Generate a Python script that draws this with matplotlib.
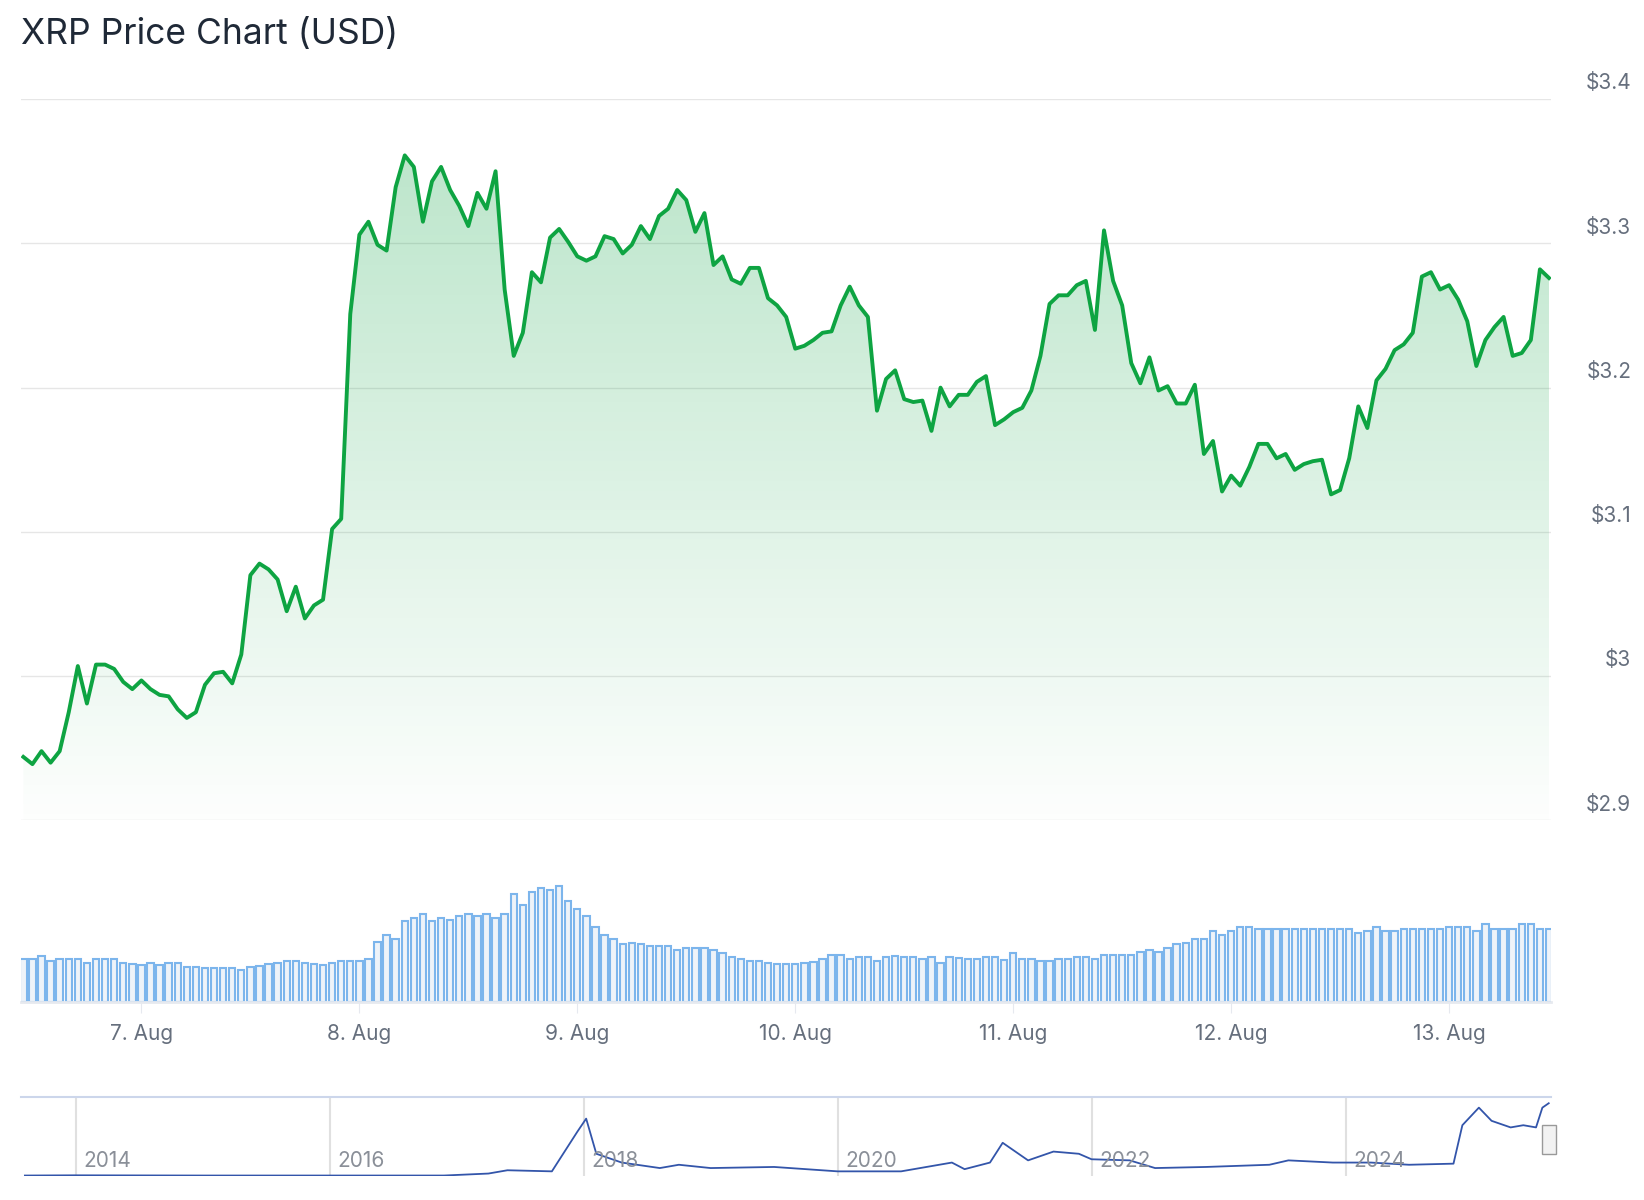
import numpy as np
import matplotlib
matplotlib.use("Agg")
import matplotlib.pyplot as plt
import matplotlib.dates as mdates
from matplotlib.path import Path
from matplotlib.patches import PathPatch
import datetime as dt

title = "XRP Price Chart (USD)"
start_time = dt.datetime(2025, 8, 6, 11, 0)
prices = [2.944, 2.939, 2.948, 2.940, 2.948, 2.975, 3.007, 2.981, 3.008, 3.008,
          3.005, 2.996, 2.991, 2.997, 2.991, 2.987, 2.986, 2.977, 2.971, 2.975,
          2.994, 3.002, 3.003, 2.995, 3.015, 3.070, 3.078, 3.074, 3.067, 3.045,
          3.062, 3.040, 3.049, 3.053, 3.102, 3.109, 3.251, 3.306, 3.315, 3.299,
          3.295, 3.339, 3.361, 3.353, 3.315, 3.343, 3.353, 3.337, 3.326, 3.312,
          3.335, 3.324, 3.350, 3.268, 3.222, 3.238, 3.280, 3.273, 3.304, 3.310,
          3.301, 3.291, 3.288, 3.291, 3.305, 3.303, 3.293, 3.299, 3.312, 3.303,
          3.319, 3.324, 3.337, 3.330, 3.308, 3.321, 3.285, 3.291, 3.275, 3.272,
          3.283, 3.283, 3.262, 3.257, 3.249, 3.227, 3.229, 3.233, 3.238, 3.239,
          3.257, 3.270, 3.257, 3.249, 3.184, 3.206, 3.212, 3.192, 3.190, 3.191,
          3.170, 3.200, 3.187, 3.195, 3.195, 3.204, 3.208, 3.174, 3.178, 3.183,
          3.186, 3.198, 3.222, 3.258, 3.264, 3.264, 3.271, 3.274, 3.240, 3.309,
          3.274, 3.257, 3.217, 3.203, 3.221, 3.198, 3.201, 3.189, 3.189, 3.202,
          3.154, 3.163, 3.128, 3.139, 3.132, 3.145, 3.161, 3.161, 3.151, 3.154,
          3.143, 3.147, 3.149, 3.150, 3.126, 3.129, 3.151, 3.187, 3.172, 3.205,
          3.213, 3.226, 3.230, 3.238, 3.277, 3.280, 3.268, 3.271, 3.261, 3.246,
          3.215, 3.233, 3.242, 3.249, 3.222, 3.224, 3.233, 3.282, 3.276]
volumes = [40, 40, 43, 38, 40, 40, 40, 36, 40, 40,
           40, 36, 35, 34, 36, 34, 36, 36, 32, 32,
           31, 31, 31, 31, 30, 32, 33, 35, 36, 38,
           38, 36, 35, 34, 36, 38, 38, 38, 40, 56,
           62, 58, 75, 78, 82, 75, 78, 76, 80, 82,
           80, 82, 78, 82, 100, 90, 102, 106, 104, 108,
           94, 86, 80, 70, 62, 58, 54, 55, 54, 52,
           52, 52, 48, 50, 50, 50, 48, 45, 42, 40,
           38, 38, 36, 35, 35, 35, 36, 37, 40, 44,
           44, 40, 42, 42, 38, 42, 43, 42, 42, 40,
           42, 36, 42, 41, 40, 40, 42, 42, 39, 45,
           40, 40, 38, 38, 40, 40, 42, 42, 40, 44,
           44, 44, 44, 46, 48, 46, 50, 54, 55, 58,
           58, 66, 62, 66, 70, 70, 68, 68, 68, 68,
           68, 68, 68, 68, 68, 68, 68, 64, 66, 70,
           66, 66, 68, 68, 68, 68, 68, 70, 70, 70,
           66, 72, 68, 68, 68, 72, 72, 68, 68]
y_ticks = [2.9, 3.0, 3.1, 3.2, 3.3, 3.4]
y_labels = ["$2.9", "$3", "$3.1", "$3.2", "$3.3", "$3.4"]
nav_years = [2013.6, 2014.0, 2015.0, 2016.0, 2016.9, 2017.25, 2017.4, 2017.75, 2017.95, 2018.02,
             2018.1, 2018.3, 2018.6, 2018.75, 2019.0, 2019.5, 2020.0, 2020.5, 2020.9, 2021.0,
             2021.2, 2021.3, 2021.5, 2021.7, 2021.9, 2022.0, 2022.3, 2022.5, 2022.9, 2023.4,
             2023.55, 2023.9, 2024.2, 2024.5, 2024.85, 2024.92, 2025.05, 2025.15, 2025.3, 2025.4,
             2025.5, 2025.55, 2025.6]
nav_prices = [0.01, 0.02, 0.01, 0.01, 0.01, 0.1, 0.25, 0.2, 2.0, 2.6,
              1.0, 0.6, 0.35, 0.5, 0.35, 0.4, 0.2, 0.2, 0.6, 0.3,
              0.6, 1.5, 0.7, 1.1, 1.0, 0.75, 0.7, 0.35, 0.4, 0.5,
              0.7, 0.6, 0.6, 0.5, 0.55, 2.3, 3.1, 2.5, 2.2, 2.3,
              2.2, 3.1, 3.3]
nav_labels = [2014, 2016, 2018, 2020, 2022, 2024]

W, H = 1560, 1138
def fx(px): return px / W
def fy(py): return 1 - py / H

fig = plt.figure(figsize=(16.44, 12), dpi=100)
fig.text(fx(20), fy(33), title, fontsize=25.5, color="#1f2937", va="center", ha="left", family="Inter")

times = [start_time + dt.timedelta(hours=i) for i in range(len(prices))]
tnum = mdates.date2num(times)
xl = (tnum[0] - 0.25 / 24, tnum[-1] + 0.25 / 24)
green = "#0ea442"
grey = "#666f7d"

ax = fig.add_axes([fx(20), fy(778), fx(1472) - fx(20), fy(94) - fy(778)])
ax.set_xlim(*xl)
ax.set_ylim(2.9, 3.4)
for v in y_ticks:
    ax.axhline(v, color="#e6e6e6", lw=1, zorder=0)
ax.plot(tnum, prices, color=green, lw=2.8, zorder=3, solid_joinstyle="round")
verts = [(tnum[0], 2.9)] + list(zip(tnum, prices)) + [(tnum[-1], 2.9)]
patch = PathPatch(Path(verts), facecolor="none", edgecolor="none")
ax.add_patch(patch)
grad = np.zeros((256, 1, 4))
grad[:, 0, 0] = 0.05; grad[:, 0, 1] = 0.64; grad[:, 0, 2] = 0.26
grad[:, 0, 3] = np.linspace(0.28, 0.01, 256)
im = ax.imshow(grad, extent=[xl[0], xl[1], 2.9, 3.37], aspect="auto", origin="upper", zorder=1)
im.set_clip_path(patch)
ax.set_xlim(*xl)
ax.set_ylim(2.9, 3.4)
ax.axis("off")
for v, lab in zip(y_ticks, y_labels):
    ax.text(1.0 + (1548 - 1472) / (1472 - 20), v + 0.004, lab, transform=ax.get_yaxis_transform(),
            ha="right", va="bottom", fontsize=15, color=grey, family="Inter")

axv = fig.add_axes([fx(20), fy(950), fx(1472) - fx(20), fy(838) - fy(950)])
vt = mdates.date2num([start_time + dt.timedelta(hours=i) for i in range(len(volumes))])
axv.bar(vt, volumes, width=0.7 / 24, facecolor="#eef3f9", edgecolor="#7cb5ec", lw=1.5)
axv.set_xlim(*xl)
axv.set_ylim(0, 110)
for s in ["top", "left", "right"]:
    axv.spines[s].set_visible(False)
axv.spines["bottom"].set_color("#e6e9ef")
axv.spines["bottom"].set_linewidth(2)
axv.set_yticks([])
axv.xaxis.set_major_locator(mdates.DayLocator())
axv.xaxis.set_major_formatter(mdates.DateFormatter("%-d. %b"))
axv.tick_params(axis="x", length=8, color="#e6e9ef", labelsize=15, labelcolor=grey, pad=8)
for t in axv.get_xticklabels():
    t.set_family("Inter")

axn = fig.add_axes([fx(20), fy(1115), fx(1472) - fx(20), fy(1040) - fy(1115)])
axn.set_xlim(2013.57, 2025.62)
axn.set_ylim(0, 3.6)
for yr in nav_labels:
    axn.axvline(yr, color="#e0e0e0", lw=1.5, zorder=0)
    axn.text(yr + 0.06, 0.2, str(yr), fontsize=15, color="#8a8f98", family="Inter", va="bottom", ha="left")
axn.plot(nav_years, nav_prices, color="#3355aa", lw=1.3, zorder=2)
for s in ["left", "right", "bottom"]:
    axn.spines[s].set_visible(False)
axn.spines["top"].set_color("#ccd6eb")
axn.spines["top"].set_linewidth(1.5)
axn.set_xticks([]); axn.set_yticks([])
axn.add_patch(plt.Rectangle((2025.55, 1.0), 0.11, 1.3, facecolor="#f2f2f2", edgecolor="#999999", lw=1, zorder=4, clip_on=False))

fig.savefig("out.png", dpi=100, facecolor="white")
